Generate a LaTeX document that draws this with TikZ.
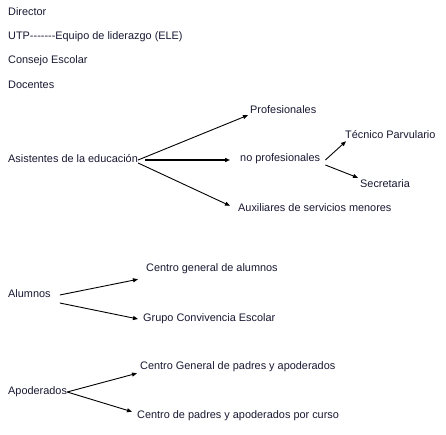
\documentclass[tikz,border=0pt]{standalone}
\usepackage{fontspec}
\setmainfont{Liberation Sans}
\usetikzlibrary{arrows.meta}
\definecolor{txtnavy}{RGB}{24,24,50}

\begin{document}
\begin{tikzpicture}[x=1pt, y=1pt,
  lbl/.style={anchor=west, inner sep=0pt, text=txtnavy, font=\fontsize{10.9}{13}\selectfont},
  arr/.style={-{Triangle[length=5pt,width=4pt]}, line width=0.9pt}]
  \useasboundingbox (0,0) rectangle (446,-435);
  % top list
  \node[lbl] (dir) at (8,-12) {Director};
  \node[lbl] (utp) at (8,-37) {UTP-{}-{}-{}-{}-{}-{}-Equipo de liderazgo (ELE)};
  \node[lbl] (cons) at (8,-61) {Consejo Escolar};
  \node[lbl] (doc) at (8,-85) {Docentes};
  % asistentes
  \node[lbl] (ase) at (8,-159) {Asistentes de la educación};
  \node[lbl] (pro) at (250,-110) {Profesionales};
  \node[lbl] (nop) at (240,-159) {no profesionales};
  \node[lbl] (aux) at (238,-208) {Auxiliares de servicios menores};
  \node[lbl] (tec) at (345,-135) {Técnico Parvulario};
  \node[lbl] (sec) at (360,-184) {Secretaria};
  \draw[arr] ([yshift=-1pt]ase.east) -- ([xshift=-2pt, yshift=-1pt]pro.south west);
  \draw[arr, line width=1.6pt] ([xshift=7pt, yshift=-1pt]ase.east) -- ([xshift=-10pt, yshift=-1pt]nop.west);
  \draw[arr] ([yshift=-4pt]ase.east) -- ([xshift=-8pt, yshift=-2pt]aux.north west);
  \draw[arr] ([xshift=5pt, yshift=-1pt]nop.east) -- ([xshift=1pt, yshift=-2pt]tec.south west);
  \draw[arr] ([xshift=5pt, yshift=-6pt]nop.east) -- ([xshift=-2pt, yshift=2pt]sec.north west);
  % alumnos
  \node[lbl] (alu) at (8,-294) {Alumnos};
  \node[lbl] (cga) at (146,-269) {Centro general de alumnos};
  \node[lbl] (gce) at (143,-319) {Grupo Convivencia Escolar};
  \draw[arr] ([xshift=9pt, yshift=-1pt]alu.east) -- ([xshift=-8pt, yshift=-5pt]cga.south west);
  \draw[arr] ([xshift=9pt, yshift=-9pt]alu.east) -- ([xshift=-5pt]gce.west);
  % apoderados
  \node[lbl] (apo) at (8,-392) {Apoderados};
  \node[lbl] (cgp) at (140,-367) {Centro General de padres y apoderados};
  \node[lbl] (cpc) at (137,-416) {Centro de padres y apoderados por curso};
  \draw[arr] (apo.east) -- ([xshift=-3pt, yshift=-1pt]cgp.south west);
  \draw[arr] (apo.east) -- ([xshift=-5pt, yshift=-1pt]cpc.north west);
\end{tikzpicture}
\end{document}
